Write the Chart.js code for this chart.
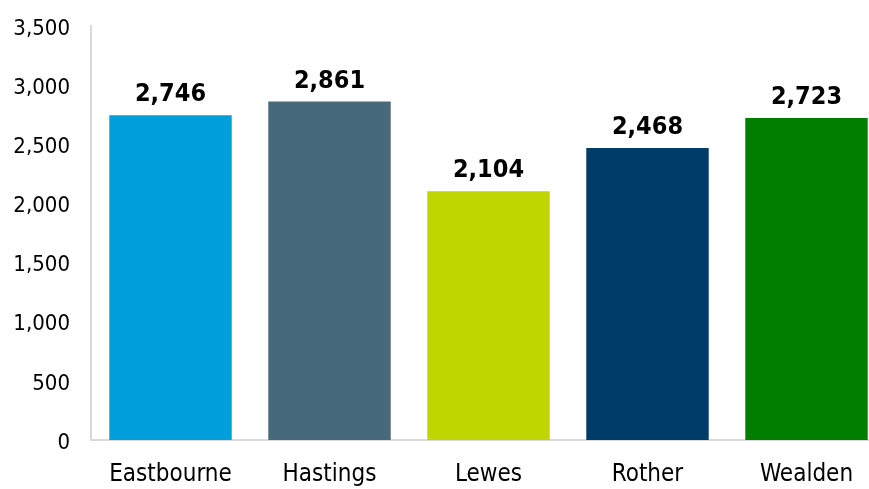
<!DOCTYPE html>
<html>
<head>
<meta charset="utf-8">
<script src="https://cdn.jsdelivr.net/npm/chart.js@4/dist/chart.umd.min.js"></script>
<style>
  html, body { margin: 0; padding: 0; background: #fff; overflow: hidden; }
  #wrap { width: 886px; height: 489px; }
</style>
</head>
<body>
<div id="wrap"><canvas id="chart"></canvas></div>
<script>
var districts = ["Eastbourne", "Hastings", "Lewes", "Rother", "Wealden"];
var counts = [2746, 2861, 2104, 2468, 2723];
var barColours = ["#009fdb", "#46697c", "#bfd600", "#003c69", "#007e00"];

var fontFamily = "'DejaVu Sans Condensed', 'DejaVu Sans', sans-serif";

// writes the value above each bar
var valueLabels = {
  id: "valueLabels",
  afterDatasetsDraw: function(chart) {
    var ctx = chart.ctx;
    var meta = chart.getDatasetMeta(0);
    ctx.save();
    ctx.font = "bold 25px " + fontFamily;
    ctx.fillStyle = "#000";
    ctx.textAlign = "center";
    ctx.textBaseline = "bottom";
    meta.data.forEach(function(bar, i) {
      ctx.fillText(counts[i].toLocaleString("en-GB"), bar.x, bar.y - 8);
    });
    ctx.restore();
  }
};

new Chart(document.getElementById("chart"), {
  type: "bar",
  data: {
    labels: districts,
    datasets: [{
      data: counts,
      backgroundColor: barColours,
      barPercentage: 0.77,
      categoryPercentage: 1
    }]
  },
  options: {
    responsive: true,
    maintainAspectRatio: false,
    animation: false,
    layout: { padding: { top: 26, right: 0 } },
    plugins: { legend: { display: false }, tooltip: { enabled: false } },
    scales: {
      x: {
        grid: { display: false, drawTicks: false },
        border: { display: true, color: "#d9d9d9", width: 2 },
        ticks: { color: "#000", padding: 20, font: { family: fontFamily, size: 24 } },
        afterFit: function(scale) {
          scale.height = 49;
          scale.paddingLeft = 0;
          scale.paddingRight = 0;
        }
      },
      y: {
        min: 0,
        max: 3500,
        grid: { display: false, drawTicks: false },
        border: { display: true, color: "#d9d9d9", width: 2 },
        ticks: {
          stepSize: 500,
          color: "#000",
          padding: 21,
          labelOffset: 3,
          font: { family: fontFamily, size: 22 },
          callback: function(v) { return v.toLocaleString("en-GB"); }
        },
        afterFit: function(scale) {
          scale.width = 91;
          scale.paddingTop = 0;
          scale.paddingBottom = 0;
        }
      }
    }
  },
  plugins: [valueLabels]
});
</script>
</body>
</html>
